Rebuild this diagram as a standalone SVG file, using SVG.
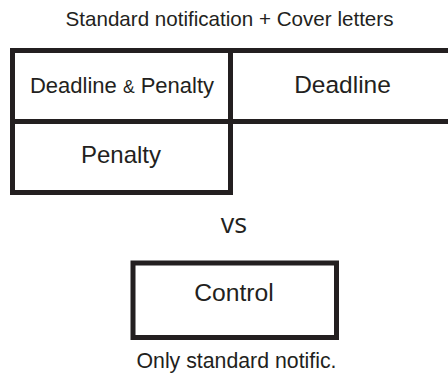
<svg xmlns="http://www.w3.org/2000/svg" width="448" height="373" viewBox="0 0 448 373">
<style>
.t{font-family:"Liberation Sans",Arial,sans-serif;fill:#231f20;text-anchor:middle}
.ln{stroke:#231f20;stroke-width:5;fill:none}
</style>
<rect width="448" height="373" fill="#fff"/>
<text class="t" x="229.5" y="26" font-size="20.6">Standard notification + Cover letters</text>
<g id="grid">
<path class="ln" d="M460 50.5H12.5V192.5H230.5V50.5M10 121.5H460"/>
</g>
<g id="deadline-penalty">
<text class="t" x="122" y="92.7" font-size="22">Deadline <tspan font-size="17.5">&amp;</tspan> Penalty</text>
</g>
<g id="deadline">
<text class="t" x="342.5" y="92.7" font-size="24.5">Deadline</text>
</g>
<g id="penalty">
<text class="t" x="121" y="163.3" font-size="24">Penalty</text>
</g>
<text x="234" y="233" font-size="27" font-family="'Open Sans',sans-serif" fill="#231f20" text-anchor="middle">vs</text>
<g id="control">
<rect class="ln" x="133" y="263" width="203.5" height="74.5" stroke-width="4.6"/>
<text class="t" x="234" y="300.7" font-size="24.7">Control</text>
</g>
<text class="t" x="236.5" y="368" font-size="21.3">Only standard notific.</text>
</svg>
